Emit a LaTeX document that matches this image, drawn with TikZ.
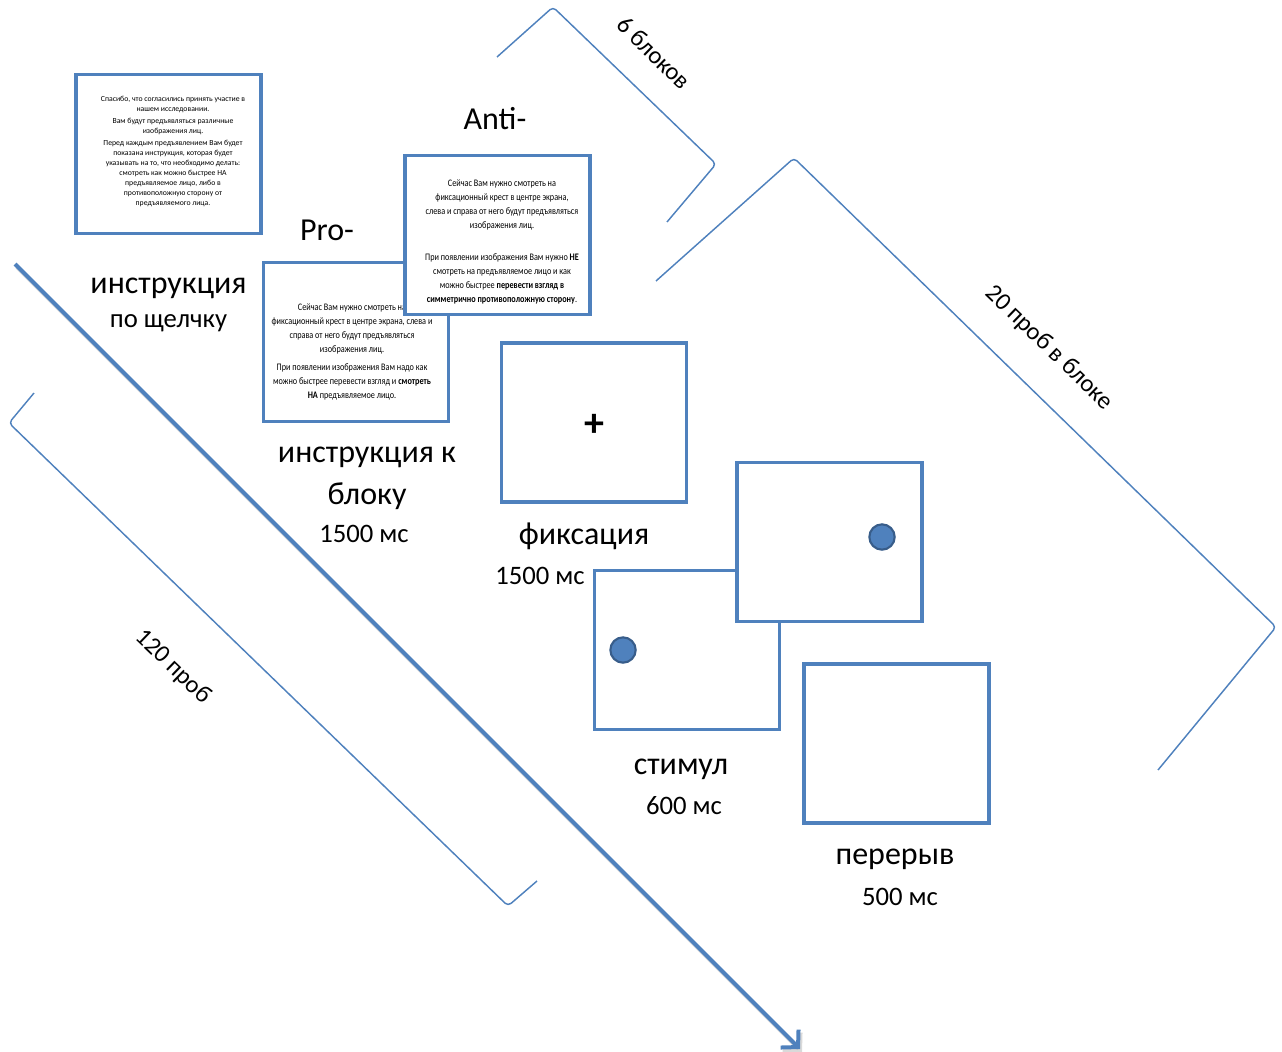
\documentclass[tikz,border=0pt]{standalone}
\usepackage{fontspec}
\setmainfont{Carlito}
\usepackage{tikz}
\usetikzlibrary{arrows.meta}
\usetikzlibrary{calc}
\definecolor{scrblue}{HTML}{4F81BD}
\definecolor{dotline}{HTML}{385D8A}
\tikzset{>={Straight Barb[length=9pt,width=19pt]}}
\tikzstyle{screen}=[draw=scrblue,line width=2.6pt,shape=rectangle,fill=white,minimum width=139pt,minimum height=119pt,inner sep=0pt]
\tikzstyle{bigtext}=[black,font=\fontsize{24}{28}\selectfont,inner sep=0pt]
\tikzstyle{smalltext}=[black,font=\fontsize{20}{24}\selectfont,inner sep=0pt]
\tikzstyle{bracetext}=[black,font=\fontsize{18.5}{22}\selectfont,inner sep=0pt,rotate=-44]
\tikzstyle{brace}=[draw=scrblue,line width=1.1pt,rounded corners=3pt]
\tikzstyle{introtext}=[align=center,inner sep=0pt,font=\fontsize{5.8}{7.5}\selectfont]
\tikzstyle{slidetext}=[align=center,inner sep=0pt,font=\fontsize{7.5}{10.5}\selectfont,xscale=0.82,transform shape]
\tikzstyle{dot}=[circle,fill=scrblue,draw=dotline,line width=1.6pt,minimum size=19pt,inner sep=0pt]
\tikzstyle{timeline}=[->,line width=3pt,color=scrblue]

\begin{document}
\begin{tikzpicture}[x=0.75pt,y=-0.75pt]
	\useasboundingbox (0,0) rectangle (1282,1052);
	
	% Brackets
	\coordinate (blka) at (497,57);
	\coordinate (blkb) at (553,7);
	\coordinate (blkc) at (716,164);
	\coordinate (blkd) at (667,222);
	\draw[brace] (blka) -- (blkb) -- (blkc) -- (blkd);
	\node[bracetext] (blklabel) at (654,53) {6 блоков};
	\coordinate (triala) at (656,281);
	\coordinate (trialb) at (794,158);
	\coordinate (trialc) at (1276,627);
	\coordinate (triald) at (1158,770);
	\draw[brace] (triala) -- (trialb) -- (trialc) -- (triald);
	\node[bracetext] (triallabel) at (1049,348) {20 проб в блоке};
	\coordinate (alla) at (34,393);
	\coordinate (allb) at (9,423);
	\coordinate (allc) at (508,906);
	\coordinate (alld) at (537,881);
	\draw[brace] (alla) -- (allb) -- (allc) -- (alld);
	\node[bracetext] (alllabel) at (173,667) {120 проб};
	
	% Time axis
	\coordinate (tstart) at (15,264);
	\coordinate (tend) at (800,1049);
	\draw[timeline,black!25,opacity=0.6] ($(tstart)+(2,3)$) -- ($(tend)+(2,3)$);
	\draw[timeline] (tstart) -- (tend);
	
	% Instruction
	\node[screen] (intro) at (168.5,154) {};
	\node[introtext] (introtxt) at (173,151.5) {Спасибо, что согласились принять участие в\\нашем исследовании.\\[1.5pt]Вам будут предъявляться различные\\изображения лиц.\\[1.5pt]Перед каждым предъявлением Вам будет\\показана инструкция, которая будет\\указывать на то, что необходимо делать:\\смотреть как можно быстрее НА\\предъявляемое лицо, либо в\\противоположную сторону от\\предъявляемого лица.};
	\node[bigtext] (introlabel) at ($(intro) + (0,134)$) {инструкция};
	\node[smalltext] (introclick) at ($(intro) + (0,169)$) {по щелчку};
	
	% Block instructions
	\node[screen] (pro) at (356,342) {};
	\node[slidetext] (protxt) at (352,351.5) {Сейчас Вам нужно смотреть на\\фиксационный крест в центре экрана, слева и\\справа от него будут предъявляться\\изображения лиц.\\[3pt]При появлении изображения Вам надо как\\можно быстрее перевести взгляд и \textbf{смотреть}\\\textbf{НА} предъявляемое лицо.};
	\node[screen] (anti) at (497.5,235) {};
	\node[slidetext] (antitxt) at (502,241.5) {Сейчас Вам нужно смотреть на\\фиксационный крест в центре экрана,\\слева и справа от него будут предъявляться\\изображения лиц.\\[13.5pt]При появлении изображения Вам нужно \textbf{НЕ}\\смотреть на предъявляемое лицо и как\\можно быстрее \textbf{перевести взгляд в}\\\textbf{симметрично противоположную сторону}.};
	\node[bigtext] (prolabel) at ($(pro) + (-29,-112)$) {Pro-};
	\node[bigtext] (antilabel) at ($(anti) + (-2.5,-116)$) {Anti-};
	\node[bigtext] (blocklabel) at ($(pro) + (11,115)$) {инструкция к};
	\node[bigtext] (blocklabelb) at ($(pro) + (11,154)$) {блоку};
	\node[smalltext] (blocktime) at ($(pro) + (8,192)$) {1500 мс};
	
	% Fixation
	\node[screen] (fix) at (594,422.5) {};
	\node[black,font=\fontsize{30}{32}\selectfont\bfseries,inner sep=0pt] (cross) at ($(fix) + (0,3)$) {+};
	\node[bigtext] (fixlabel) at ($(fix) + (-10,114)$) {фиксация};
	\node[smalltext] (fixtime) at ($(fix) + (-54,153)$) {1500 мс};
	
	% Stimulus
	\node[screen] (stiml) at (687,650) {};
	\node[screen] (stimr) at (829.5,542) {};
	\node[dot] (dotl) at ($(stiml) + (-64,0)$) {};
	\node[dot] (dotr) at ($(stimr) + (52.5,-5)$) {};
	\node[bigtext] (stimlabel) at ($(stiml) + (-6,119)$) {стимул};
	\node[smalltext] (stimtime) at ($(stiml) + (-3,156)$) {600 мс};
	
	% Pause
	\node[screen] (pause) at (896.5,743.5) {};
	\node[bigtext] (pauselabel) at ($(pause) + (-1.5,115.5)$) {перерыв};
	\node[smalltext] (pausetime) at ($(pause) + (3.5,153.5)$) {500 мс};
	
\end{tikzpicture}
\end{document}
